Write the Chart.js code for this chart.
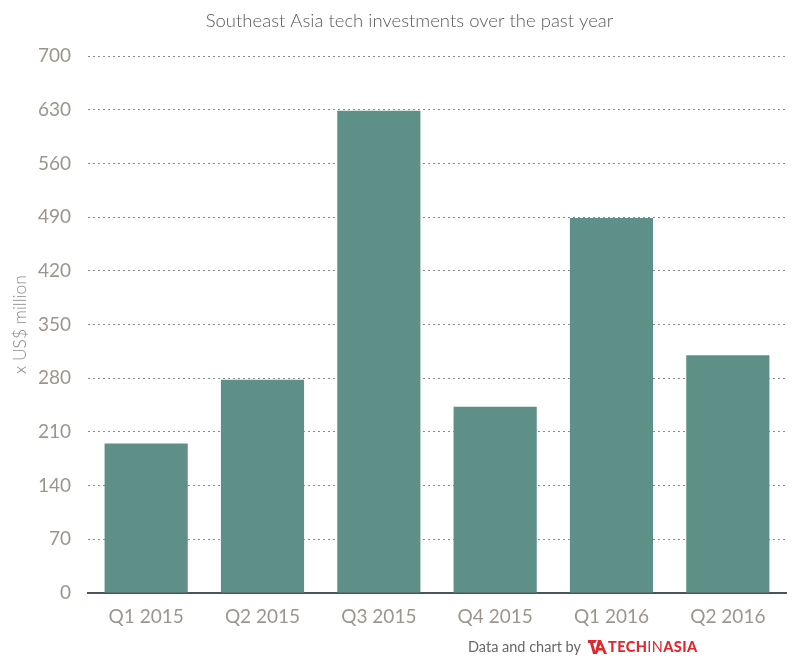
<!DOCTYPE html>
<html>
<head>
<meta charset="utf-8">
<script src="https://cdn.jsdelivr.net/npm/chart.js@4"></script>
<style>
  body { margin: 0; background: #fff; }
  #wrap { position: relative; width: 811px; height: 668px; }
  #credit {
    position: absolute; left: 468px; top: 638px;
    font-family: Lato, sans-serif; font-size: 14.5px; color: #666;
    display: flex; align-items: center; white-space: nowrap;
  }
  #credit .logo { margin-left: 7px; color: #e2262b; display: flex; align-items: center; font-weight: 900; letter-spacing: 0.4px; }
  #credit .logo .in { font-weight: 400; }
</style>
</head>
<body>
<div id="wrap">
  <canvas id="chart" width="811" height="668"></canvas>
  <div id="credit">Data and chart by
    <span class="logo">
      <svg width="20" height="16" viewBox="0 0 20 16"><path d="M0 1h9l-2 3H5l3 11h-3L2 4H0z M10 1h3l6 14h-3l-1.5-3.5h-4L9 15H6.5z M11 9h2.8L12.4 5.5z" fill="#e2262b"/></svg>TECH<span class="in">IN</span>ASIA
    </span>
  </div>
</div>
<script>
  const categories = ['Q1 2015', 'Q2 2015', 'Q3 2015', 'Q4 2015', 'Q1 2016', 'Q2 2016'];
  const investments = [195, 278, 629, 243, 489, 310];
  const yTicks = [0, 70, 140, 210, 280, 350, 420, 490, 560, 630, 700];

  const tickColor = '#9b958e';

  new Chart(document.getElementById('chart'), {
    type: 'bar',
    data: {
      labels: categories,
      datasets: [{
        label: 'x US$ million',
        data: investments,
        backgroundColor: '#5e9088',
        categoryPercentage: 1,
        barPercentage: 0.715
      }]
    },
    options: {
      responsive: false,
      animation: false,
      // left padding pushes the centred title over to where the original sits
      layout: { padding: { top: 0, right: 25, bottom: 0, left: 33 } },
      plugins: {
        legend: { display: false },
        tooltip: { enabled: false },
        title: {
          display: true,
          text: 'Southeast Asia tech investments over the past year',
          color: '#5a5a5a',
          font: { family: 'Lato', size: 18.5, weight: 300 },
          padding: { top: 10, bottom: 24 }
        }
      },
      scales: {
        x: {
          grid: { display: false, drawTicks: false },
          border: { display: true, color: '#4a5561', width: 2 },
          ticks: { color: tickColor, font: { family: 'Lato', size: 19 }, padding: 12 },
          afterFit: (scale) => { scale.height = 75; }
        },
        y: {
          min: 0,
          max: 700,
          afterBuildTicks: (scale) => { scale.ticks = yTicks.map(v => ({ value: v })); },
          grid: { color: '#8a8a8a', lineWidth: 1, drawTicks: false },
          border: { display: false, dash: [2, 3] },
          ticks: { color: tickColor, font: { family: 'Lato', size: 19 }, padding: 17 },
          title: {
            display: true,
            text: 'x US$ million',
            color: '#888',
            font: { family: 'Lato', size: 17.5, weight: 300 },
            padding: { top: -23, bottom: 0 }
          },
          afterFit: (scale) => { scale.width = 55; }
        }
      }
    }
  });
</script>
</body>
</html>
